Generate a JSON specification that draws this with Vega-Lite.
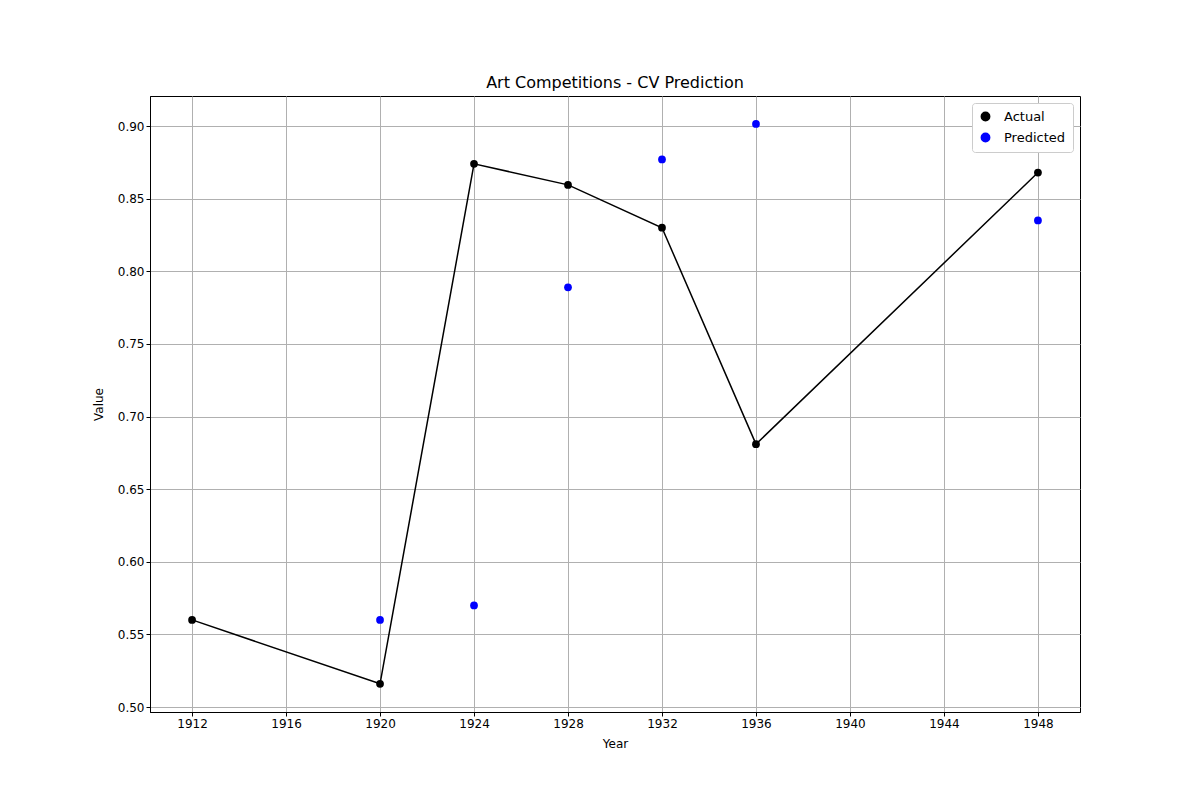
{
  "$schema": "https://vega.github.io/schema/vega-lite/v6.json",
  "width": 930,
  "height": 616,
  "autosize": "none",
  "padding": {"left": 150, "top": 96, "right": 120, "bottom": 88},
  "background": "white",
  "title": {"text": "Art Competitions - CV Prediction", "font": "DejaVu Sans", "fontSize": 16, "fontWeight": "normal", "offset": 5},
  "config": {
    "font": "DejaVu Sans",
    "view": {"stroke": "black", "strokeWidth": 1},
    "axis": {"labelFont": "DejaVu Sans", "titleFont": "DejaVu Sans", "labelFontSize": 12, "titleFontSize": 12, "titleFontWeight": "normal", "grid": true, "gridColor": "#b0b0b0", "gridWidth": 1, "tickColor": "black", "domainColor": "black", "labelColor": "black", "tickSize": 4, "titlePadding": 9}
  },
  "data": {
    "values": [
      {"year": 1912, "value": 0.560, "series": "Actual"},
      {"year": 1920, "value": 0.516, "series": "Actual"},
      {"year": 1924, "value": 0.874, "series": "Actual"},
      {"year": 1928, "value": 0.8595, "series": "Actual"},
      {"year": 1932, "value": 0.830, "series": "Actual"},
      {"year": 1936, "value": 0.681, "series": "Actual"},
      {"year": 1948, "value": 0.868, "series": "Actual"},
      {"year": 1920, "value": 0.560, "series": "Predicted"},
      {"year": 1924, "value": 0.570, "series": "Predicted"},
      {"year": 1928, "value": 0.789, "series": "Predicted"},
      {"year": 1932, "value": 0.877, "series": "Predicted"},
      {"year": 1936, "value": 0.9015, "series": "Predicted"},
      {"year": 1948, "value": 0.835, "series": "Predicted"}
    ]
  },
  "encoding": {
    "x": {"field": "year", "type": "quantitative", "title": "Year", "scale": {"domain": [1910.21, 1949.79], "nice": false, "zero": false},
      "axis": {"values": [1912, 1916, 1920, 1924, 1928, 1932, 1936, 1940, 1944, 1948], "format": "d"}},
    "y": {"field": "value", "type": "quantitative", "title": "Value", "scale": {"domain": [0.4966, 0.9207], "nice": false, "zero": false},
      "axis": {"values": [0.5, 0.55, 0.6, 0.65, 0.7, 0.75, 0.8, 0.85, 0.9], "format": ".2f", "titlePadding": 12}},
    "color": {"field": "series", "type": "nominal", "scale": {"domain": ["Actual", "Predicted"], "range": ["black", "blue"]},
      "legend": {"title": null, "orient": "top-right", "offset": 7, "labelFontSize": 13, "symbolType": "circle", "symbolSize": 70, "rowPadding": 6, "labelOffset": 12, "strokeColor": "#cccccc", "fillColor": "white", "padding": 7, "cornerRadius": 3}}
  },
  "layer": [
    {"transform": [{"filter": "datum.series === 'Actual'"}], "mark": {"type": "line", "strokeWidth": 1.5}},
    {"mark": {"type": "point", "filled": true, "size": 60, "opacity": 1}}
  ]
}
